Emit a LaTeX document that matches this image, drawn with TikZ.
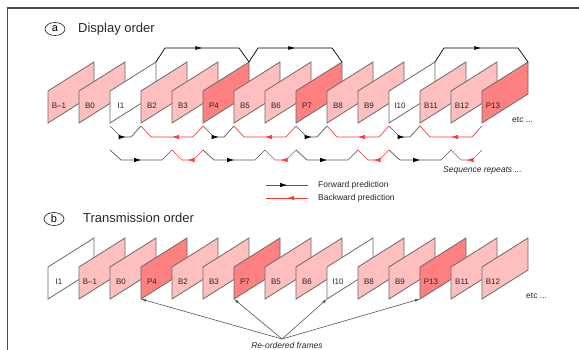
\documentclass[tikz,border=0pt]{standalone}
\usepackage{fontspec}
\setmainfont{Liberation Sans}
\usetikzlibrary{shapes.geometric,arrows.meta,decorations.markings}
\definecolor{bpink}{RGB}{255,191,191}
\definecolor{ppink}{RGB}{255,128,128}
\definecolor{edgegray}{RGB}{105,105,105}
\definecolor{linegray}{RGB}{85,85,85}
\definecolor{predred}{RGB}{255,55,55}
\tikzset{
  vfr/.style={draw=edgegray, line width=0.8pt, line join=miter},
  flabel/.style={font=\fontsize{8}{9}\selectfont, inner sep=0pt, text=black!85, anchor=mid},
  smalltext/.style={font=\fontsize{8.5}{10}\selectfont, inner sep=0pt, text=black!85},
  title/.style={font=\fontsize{13}{15}\selectfont, inner sep=0pt, text=black!85, anchor=base west},
  circ/.style={ellipse, draw=black!80, line width=0.7pt, minimum width=20pt, minimum height=13pt, inner sep=0pt, font=\fontsize{11}{12}\selectfont},
  fwd/.style={draw=linegray, line width=0.7pt, postaction={decorate},
    decoration={markings, mark=at position 0.5 with {\arrow[black]{Latex[length=7pt,width=4.5pt]}}}},
  bwd/.style={draw=predred, line width=0.7pt, postaction={decorate},
    decoration={markings, mark=at position 0.5 with {\arrow[predred]{Latex[length=7pt,width=4.5pt]}}}},
  toparc/.style={draw=black, line width=0.7pt, postaction={decorate},
    decoration={markings, mark=at position 0.5 with {\arrow[black]{Latex[length=7pt,width=4pt]}}}},
  reord/.style={draw=linegray, line width=0.6pt, -{Latex[length=5pt,width=3pt]}},
}
\newcommand\vframe[5]{%
  \path[vfr, fill=#4] (#2,#3) coordinate (#1-bl) -- ++(0,-32) -- ++(46,-29) coordinate (#1-tr) -- ++(0,32) -- cycle;
  \node[flabel] (#1-lab) at (#2+11,#3-17) {#5};
}
\begin{document}
\begin{tikzpicture}[x=1pt,y=-1pt]
\useasboundingbox (0,0) rectangle (579,350);
% outer border
\draw[line width=1.6pt, black!70] (7.5,350) -- (7.5,8) -- (579,8);

% ---------- (a) display order
\node[circ] (ca) at (55,29) {a};
\node[title] (ta) at (78,33) {Display order};

\foreach \nm/\lb/\fc [count=\i from 0] in {Bm1/B--1/bpink, B0/B0/bpink, I1/I1/white, B2/B2/bpink, B3/B3/bpink, P4/P4/ppink, B5/B5/bpink, B6/B6/bpink, P7/P7/ppink, B8/B8/bpink, B9/B9/bpink, I10/I10/white, B11/B11/bpink, B12/B12/bpink, P13/P13/ppink}
  {\vframe{a\nm}{48+31*\i}{123}{\fc}{\lb}}

% top arcs
\foreach \s/\t in {I1/P4, P4/P7, I10/P13}
  \draw[toparc] (a\s-tr) -- ++(9,-14) -- ([shift={(-10pt,14pt)}]a\t-tr) -- (a\t-tr);

% row 1
\foreach \s/\t in {I1/B2, P4/B5, P7/B8, I10/B11}
  \draw[fwd] ([yshift=-3pt]a\s-bl) -- ++(11,11) -- ([shift={(-10pt,-14pt)}]a\t-bl) -- ([yshift=-3pt]a\t-bl);
\foreach \s/\t in {P4/B2, P7/B5, I10/B8, P13/B11}
  \draw[bwd] ([yshift=-3pt]a\s-bl) -- ++(-10,11) -- ([shift={(10pt,-14pt)}]a\t-bl) -- ([yshift=-3pt]a\t-bl);
% row 2
\foreach \s/\t in {I1/B3, P4/B6, P7/B9, I10/B12}
  \draw[fwd] ([yshift=-27pt]a\s-bl) -- ++(11,10) -- ([shift={(-10pt,-37pt)}]a\t-bl) -- ([yshift=-27pt]a\t-bl);
\foreach \s/\t in {P4/B3, P7/B6, I10/B9, P13/B12}
  \draw[bwd] ([yshift=-27pt]a\s-bl) -- ++(-10,10) -- ([shift={(10pt,-37pt)}]a\t-bl) -- ([yshift=-27pt]a\t-bl);

\node[smalltext, anchor=mid west] (etca) at (512,120) {etc ...};
\node[smalltext, anchor=mid west, font=\fontsize{8.5}{10}\selectfont\itshape] (seq) at (443,170) {Sequence repeats ...};

% legend
\coordinate (lfA) at (266,185);
\coordinate (lfB) at (308,185);
\draw[fwd] (lfA) -- (lfB);
\node[smalltext, anchor=mid west] (lfT) at (318,185) {Forward prediction};
\coordinate (lbA) at (308,198);
\coordinate (lbB) at (266,198);
\draw[bwd] (lbA) -- (lbB);
\node[smalltext, anchor=mid west] (lbT) at (318,198) {Backward prediction};

% ---------- (b) transmission order
\node[circ] (cb) at (54,219) {b};
\node[title] (tb) at (83,222.5) {Transmission order};

\foreach \nm/\lb/\fc [count=\i from 0] in {I1/I1/white, Bm1/B--1/bpink, B0/B0/bpink, P4/P4/ppink, B2/B2/bpink, B3/B3/bpink, P7/P7/ppink, B5/B5/bpink, B6/B6/bpink, I10/I10/white, B8/B8/bpink, B9/B9/bpink, P13/P13/ppink, B11/B11/bpink, B12/B12/bpink}
  {\vframe{b\nm}{48+31*\i}{299}{\fc}{\lb}}

\node[smalltext, anchor=mid west] (etcb) at (526,296) {etc ...};

\coordinate (ro) at (282,339);
\foreach \t in {P4, P7, I10, P13}
  \draw[reord] (ro) -- (b\t-bl);
\node[smalltext, font=\fontsize{8.5}{10}\selectfont\itshape] (rot) at (287,345.5) {Re-ordered frames};
\end{tikzpicture}
\end{document}
